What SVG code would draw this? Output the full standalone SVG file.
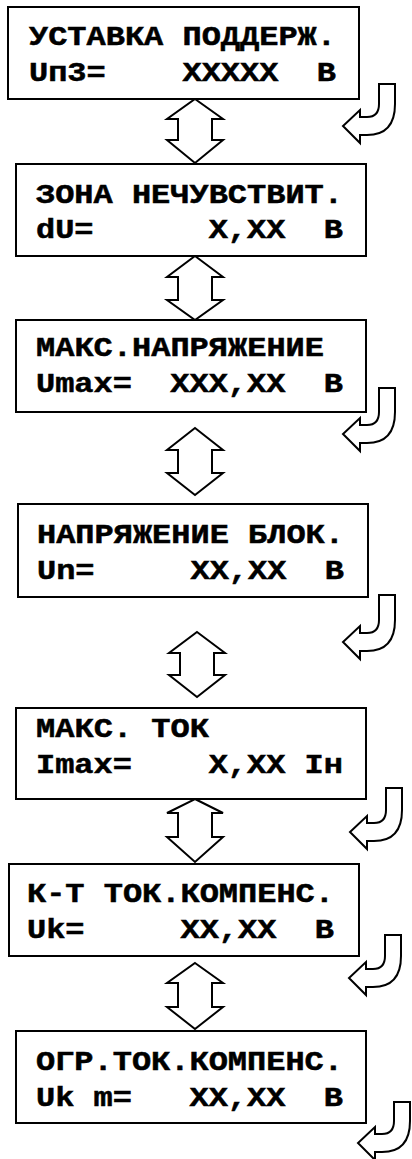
<svg xmlns="http://www.w3.org/2000/svg" width="412" height="1159" viewBox="0 0 412 1159">
<style>
.box{fill:#fff;stroke:#000;stroke-width:2}
.t{font-family:"Liberation Mono","Courier New",monospace;font-weight:bold;font-size:27px;fill:#000;stroke:#000;stroke-width:0.5}
.arr{fill:#fff;stroke:#000;stroke-width:2;stroke-linejoin:miter}
</style>
<rect width="412" height="1159" fill="#fff"/>
<g id="connectors">
<path class="arr" d="M195,99 L223,119 H212 V140 H223 L195,163 L167,140 H178 V119 H167 Z"/>
<path class="arr" d="M195,256 L223,277 H212 V300 H223 L195,320 L167,300 H178 V277 H167 Z"/>
<path class="arr" d="M195,428 L223,450 H212 V473 H223 L195,495 L167,473 H178 V450 H167 Z"/>
<path class="arr" d="M197,632 L225,653 H214 V675 H225 L197,697 L169,675 H180 V653 H169 Z"/>
<path class="arr" d="M195,799 L223,813 H212 V837 H223 L195,862 L167,837 H178 V813 H167 Z"/>
<path class="arr" d="M195,963 L223,983 H212 V1007 H223 L195,1029 L167,1007 H178 V983 H167 Z"/>
<path class="arr" transform="translate(379,84)" d="M0,0 H16 V20 C16,40 7,51 -12,51 H-19 V59 L-36,42 L-19,26 V33 H-12 C-4,33 0,28 0,20 Z"/>
<path class="arr" transform="translate(379,392)" d="M0,-4 H16 V20 C16,40 7,51 -12,51 H-19 V59 L-36,42 L-19,26 V33 H-12 C-4,33 0,28 0,20 Z"/>
<path class="arr" transform="translate(379,600)" d="M0,-5 H16 V20 C16,40 7,51 -12,51 H-19 V59 L-36,42 L-19,26 V33 H-12 C-4,33 0,28 0,20 Z"/>
<path class="arr" transform="translate(386,790)" d="M0,-2 H16 V20 C16,40 7,51 -12,51 H-19 V59 L-36,42 L-19,26 V33 H-12 C-4,33 0,28 0,20 Z"/>
<path class="arr" transform="translate(385,936)" d="M0,-1 H16 V20 C16,40 7,51 -12,51 H-19 V59 L-36,42 L-19,26 V33 H-12 C-4,33 0,28 0,20 Z"/>
<path class="arr" transform="translate(394,1101)" d="M0,1 H16 V20 C16,40 7,51 -12,51 H-19 V59 L-36,42 L-19,26 V33 H-12 C-4,33 0,28 0,20 Z"/>
</g>
<g id="n1">
<rect class="box" x="8" y="7" width="351" height="92"/>
<text class="t" x="29" y="45" xml:space="preserve" textLength="307" lengthAdjust="spacingAndGlyphs">УСТАВКА ПОДДЕРЖ.</text>
<text class="t" x="29" y="81" xml:space="preserve" textLength="307" lengthAdjust="spacingAndGlyphs">Uп3=    XXXXX  В</text>
</g>
<g id="n2">
<rect class="box" x="16" y="164" width="350" height="92"/>
<text class="t" x="36" y="203" xml:space="preserve" textLength="307" lengthAdjust="spacingAndGlyphs">ЗОНА НЕЧУВСТВИТ.</text>
<text class="t" x="36" y="238" xml:space="preserve" textLength="307" lengthAdjust="spacingAndGlyphs">dU=      X,XX  В</text>
</g>
<g id="n3">
<rect class="box" x="16" y="320" width="350" height="92"/>
<text class="t" x="36" y="356" xml:space="preserve" textLength="288" lengthAdjust="spacingAndGlyphs">МАКС.НАПРЯЖЕНИЕ</text>
<text class="t" x="36" y="392" xml:space="preserve" textLength="307" lengthAdjust="spacingAndGlyphs">Umax=  XXX,XX  В</text>
</g>
<g id="n4">
<rect class="box" x="18" y="504" width="350" height="93"/>
<text class="t" x="37" y="543" xml:space="preserve" textLength="307" lengthAdjust="spacingAndGlyphs">НАПРЯЖЕНИЕ БЛОК.</text>
<text class="t" x="37" y="579" xml:space="preserve" textLength="307" lengthAdjust="spacingAndGlyphs">Un=     XX,XX  В</text>
</g>
<g id="n5">
<rect class="box" x="16" y="708" width="350" height="91"/>
<text class="t" x="36" y="737" xml:space="preserve" textLength="173" lengthAdjust="spacingAndGlyphs">МАКС. ТОК</text>
<text class="t" x="36" y="773" xml:space="preserve" textLength="307" lengthAdjust="spacingAndGlyphs">Imax=    X,XX Iн</text>
</g>
<g id="n6">
<rect class="box" x="9" y="864" width="350" height="92"/>
<text class="t" x="27" y="902" xml:space="preserve" textLength="307" lengthAdjust="spacingAndGlyphs">К-Т ТОК.КОМПЕНС.</text>
<text class="t" x="27" y="938" xml:space="preserve" textLength="307" lengthAdjust="spacingAndGlyphs">Uk=     XX,XX  В</text>
</g>
<g id="n7">
<rect class="box" x="16" y="1031" width="350" height="92"/>
<text class="t" x="36" y="1070" xml:space="preserve" textLength="307" lengthAdjust="spacingAndGlyphs">ОГР.ТОК.КОМПЕНС.</text>
<text class="t" x="36" y="1106" xml:space="preserve" textLength="307" lengthAdjust="spacingAndGlyphs">Uk m=   XX,XX  В</text>
</g>
</svg>
